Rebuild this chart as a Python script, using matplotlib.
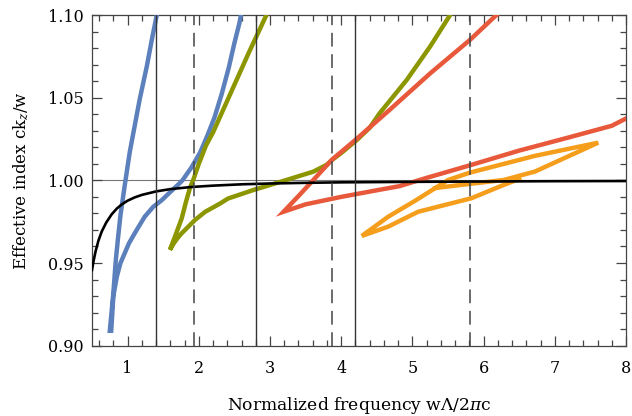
import matplotlib
matplotlib.use("Agg")
import matplotlib.pyplot as plt
from matplotlib.ticker import MultipleLocator

# ---- data ----
black_x = [0.5, 0.52, 0.55, 0.59, 0.636, 0.7, 0.777, 0.85, 0.92, 1.0, 1.1, 1.2, 1.4, 1.6,
           1.9, 2.2, 2.6, 3.0, 3.5, 4.0, 5.0, 6.0, 7.0, 8.0]
black_y = [0.9458, 0.9508, 0.9570, 0.9635, 0.9690, 0.9745, 0.9795, 0.9830, 0.9855, 0.9877,
           0.9897, 0.9912, 0.9933, 0.9947, 0.9960, 0.9968, 0.9976, 0.9981, 0.9985, 0.9988,
           0.9991, 0.9993, 0.9995, 0.9996]

blue_x = [1.43, 1.41, 1.34, 1.27, 1.17, 1.08, 1.03, 0.96, 0.90, 0.87, 0.835, 0.80, 0.75,
          0.77, 0.80, 0.85, 0.90, 0.96, 1.02, 1.10, 1.24, 1.36, 1.48, 1.60, 1.70, 1.77,
          1.90, 2.02, 2.12, 2.22, 2.32, 2.42, 2.50, 2.57, 2.61]
blue_y = [1.105, 1.100, 1.085, 1.069, 1.049, 1.0285, 1.017, 0.997, 0.979, 0.967, 0.952,
          0.932, 0.909, 0.909, 0.930, 0.942, 0.950, 0.956, 0.962, 0.968, 0.978, 0.984,
          0.988, 0.993, 0.997, 1.000, 1.008, 1.017, 1.027, 1.038, 1.052, 1.068, 1.083,
          1.095, 1.104]

green_x = [2.97, 2.95, 2.70, 2.45, 2.20, 2.10, 2.00, 1.92, 1.88, 1.82, 1.76, 1.70, 1.595,
           1.65, 1.70, 1.76, 1.946, 2.09, 2.30, 2.41, 2.77, 3.23, 3.61, 3.80, 3.87, 4.0,
           4.22, 4.40, 4.54, 4.92, 5.25, 5.53, 5.56]
green_y = [1.104, 1.100, 1.077, 1.053, 1.029, 1.021, 1.010, 1.000, 0.996, 0.987, 0.977,
           0.970, 0.958, 0.962, 0.965, 0.968, 0.976, 0.981, 0.986, 0.989, 0.9942, 1.0002,
           1.0053, 1.0095, 1.0123, 1.0165, 1.0244, 1.0318, 1.0406, 1.0607, 1.081, 1.100,
           1.104]

red_x = [6.22, 6.18, 5.81, 5.25, 4.69, 4.22, 3.87, 3.60, 3.40, 3.19,
         3.50, 4.0, 4.5, 4.82, 5.2, 5.8, 6.5, 7.2, 7.8, 8.05]
red_y = [1.1015, 1.100, 1.085, 1.0647, 1.043, 1.0252, 1.0125, 0.9998, 0.9905, 0.981,
         0.9855, 0.990, 0.994, 0.9965, 1.0015, 1.009, 1.018, 1.026, 1.033, 1.0385]

orange_x = [5.29, 5.83, 6.28, 6.72, 7.61, 6.72, 5.81, 5.50, 5.04, 4.66, 4.29,
            4.66, 5.08, 5.83, 6.28, 6.53]
orange_y = [0.9952, 0.9980, 1.0002, 1.0053, 1.0228, 1.0148, 1.0047, 1.0002, 0.9877,
            0.978, 0.9664, 0.972, 0.981, 0.9892, 0.9972, 1.0013]

solid_lines = [1.40, 2.80, 4.20]
dashed_lines = [1.935, 3.87, 5.805]

xticks = [1, 2, 3, 4, 5, 6, 7, 8]
yticks = [0.90, 0.95, 1.00, 1.05, 1.10]

# ---- style ----
plt.rcParams['font.family'] = ['DejaVu Serif']
plt.rcParams['mathtext.fontset'] = 'custom'
plt.rcParams['mathtext.rm'] = 'DejaVu Serif'
plt.rcParams['mathtext.it'] = 'DejaVu Serif:italic'

fig = plt.figure(figsize=(6.32, 4.16), dpi=100)
ax = fig.add_axes([92/632, 1-345.7/416, (626-92)/632, (345.7-15)/416])

lw = 3.2
ax.axhline(1.0, color='#777777', lw=0.8, zorder=1)
ax.plot(blue_x, blue_y, color='#5b80bb', lw=lw, solid_capstyle='butt', solid_joinstyle='miter', zorder=3)
ax.plot(green_x, green_y, color='#8c9600', lw=lw, solid_capstyle='butt', solid_joinstyle='miter', zorder=3)
ax.plot(red_x, red_y, color='#e8583a', lw=lw, solid_capstyle='butt', solid_joinstyle='miter', zorder=3)
ax.plot(orange_x, orange_y, color='#f59e1c', lw=lw, solid_capstyle='butt', solid_joinstyle='miter', zorder=3)
ax.plot(black_x, black_y, color='black', lw=1.9, zorder=4)

for xv in solid_lines:
    ax.axvline(xv, color='#333333', lw=1.0, zorder=5)
for xv in dashed_lines:
    ax.axvline(xv, color='#444444', lw=1.1, dashes=(9, 5), zorder=5)

ax.set_xlim(0.5, 8)
ax.set_ylim(0.90, 1.10)
ax.set_xticks(xticks)
ax.set_yticks(yticks)
ax.set_yticklabels([f"{v:.2f}" for v in yticks])
ax.xaxis.set_minor_locator(MultipleLocator(0.2))
ax.yaxis.set_minor_locator(MultipleLocator(0.01))
ax.tick_params(which='both', direction='in', top=True, right=True, color='#444444', width=0.9)
ax.tick_params(which='major', length=7, labelsize=11.5)
ax.tick_params(which='minor', length=4)
ax.tick_params(axis='x', which='major', pad=10)
ax.tick_params(axis='y', which='major', pad=6)
for s in ax.spines.values():
    s.set_color('#444444')
    s.set_linewidth(0.9)

ax.set_xlabel(r"Normalized frequency w$\Lambda$/2$\mathit{\pi}$c", fontsize=12.3)
ax.set_ylabel(r"Effective index ck$_{\mathit{z}}$/w", fontsize=12)
ax.xaxis.set_label_coords(0.5, -0.148)
ax.yaxis.set_label_coords(-0.115, 0.5)

fig.savefig("out.png", dpi=100)
